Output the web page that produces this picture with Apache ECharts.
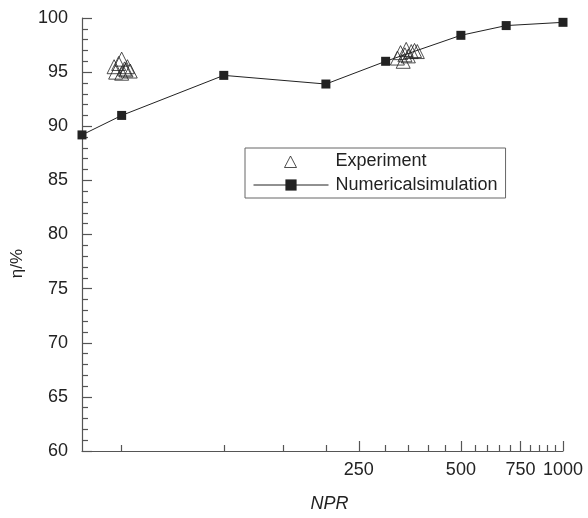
<!DOCTYPE html>
<html>
<head>
<meta charset="utf-8">
<script src="https://cdn.jsdelivr.net/npm/echarts@6/dist/echarts.min.js"></script>
<style>
  html, body { margin: 0; padding: 0; background: #fff; }
  #chart { width: 588px; height: 518px; }
</style>
</head>
<body>
<div id="chart"></div>
<script>
// Nozzle pressure ratio (NPR) vs. efficiency η (%)
const simNPR = [38.2, 50, 100, 200, 300, 500, 680, 1000];
const simEta = [89.2, 91.0, 94.7, 93.9, 96.0, 98.4, 99.3, 99.6];

const expNPR = [47.5, 48, 49, 50, 50, 51, 51.5, 52, 53,
                325, 332, 338, 342, 345, 350, 357, 365, 372];
const expEta = [95.5, 95.0, 95.8, 96.2, 94.9, 95.3, 95.2, 95.5, 95.1,
                96.3, 96.8, 96.0, 96.6, 97.1, 96.5, 96.9, 97.0, 96.9];

const xMajorTicks = [250, 500, 750, 1000];
const xMinorTicks = [50, 100, 150, 200, 300, 350, 400, 450,
                     550, 600, 650, 700, 800, 850, 900, 950];
const yMin = 60, yMax = 100, yStep = 5;

const xMin = 38.2, xMax = 1000;
const ink = '#222';
const axisInk = '#555';
const font = 'Liberation Sans, Arial, Helvetica, sans-serif';

// Legend icon: small open triangle inside a wide, otherwise empty box
const legendTriangle = 'path://M0,0M75,14M31,13.5L37,2L43,13.5Z';

const chart = echarts.init(document.getElementById('chart'), null, { renderer: 'canvas' });

const baseX = {
  type: 'log',
  logBase: 10,
  min: xMin,
  max: xMax,
  position: 'bottom',
  splitLine: { show: false },
  minorTick: { show: false },
  minorSplitLine: { show: false }
};

chart.setOption({
  backgroundColor: '#fff',
  animation: false,
  grid: { left: 82, right: 25, top: 18, bottom: 63, containLabel: false },
  legend: {
    orient: 'vertical',
    left: 245,
    top: 148,
    padding: [4, 8, 4, 8],
    itemGap: 6,
    itemWidth: 75,
    itemHeight: 14,
    borderColor: '#666',
    borderWidth: 1,
    backgroundColor: '#fff',
    textStyle: { fontFamily: font, fontSize: 18, color: ink, padding: [0, 0, 0, 2] },
    data: [
      { name: 'Experiment', icon: legendTriangle,
        itemStyle: { color: 'rgba(255,255,255,0)', borderColor: ink, borderWidth: 1 } },
      { name: 'Numericalsimulation', lineStyle: { width: 1, color: ink } }
    ]
  },
  xAxis: [
    Object.assign({}, baseX, {
      name: 'NPR',
      nameLocation: 'middle',
      nameGap: 44,
      nameTextStyle: { fontFamily: font, fontSize: 18, fontStyle: 'italic', color: ink,
                       padding: [0, 0, 0, 14] },
      axisLine: { show: true, lineStyle: { color: axisInk, width: 1.2 } },
      axisTick: { show: true, inside: true, length: 10, customValues: xMajorTicks,
                  lineStyle: { color: axisInk, width: 1.2 } },
      axisLabel: { show: true, customValues: xMajorTicks, margin: 10,
                   fontFamily: font, fontSize: 18, color: ink,
                   formatter: v => String(Math.round(v)) }
    }),
    Object.assign({}, baseX, {
      axisLine: { show: false },
      axisTick: { show: true, inside: true, length: 6, customValues: xMinorTicks,
                  lineStyle: { color: axisInk, width: 1.2 } },
      axisLabel: { show: false }
    })
  ],
  yAxis: {
    type: 'value',
    min: yMin,
    max: yMax,
    interval: yStep,
    name: 'η/%',
    nameLocation: 'middle',
    nameGap: 56,
    nameRotate: 90,
    nameTextStyle: { fontFamily: font, fontSize: 17, color: ink, padding: [0, 58, 0, 0] },
    splitLine: { show: false },
    axisLine: { show: true, lineStyle: { color: axisInk, width: 1.2 } },
    axisTick: { show: true, inside: true, length: 10, lineStyle: { color: axisInk, width: 1.2 } },
    minorTick: { show: true, splitNumber: 5, length: 6, lineStyle: { color: axisInk, width: 1.2 } },
    axisLabel: { fontFamily: font, fontSize: 18, color: ink, margin: 14 }
  },
  series: [
    {
      name: 'Experiment',
      type: 'scatter',
      xAxisIndex: 0,
      symbol: 'triangle',
      symbolSize: 14,
      itemStyle: { color: 'rgba(255,255,255,0)', borderColor: ink, borderWidth: 1 },
      data: expNPR.map((n, i) => [n, expEta[i]]),
      z: 3
    },
    {
      name: 'Numericalsimulation',
      type: 'line',
      xAxisIndex: 0,
      symbol: 'rect',
      symbolSize: 9,
      showAllSymbol: true,
      lineStyle: { color: ink, width: 1 },
      itemStyle: { color: ink },
      data: simNPR.map((n, i) => [n, simEta[i]]),
      z: 4
    }
  ]
});
</script>
</body>
</html>
